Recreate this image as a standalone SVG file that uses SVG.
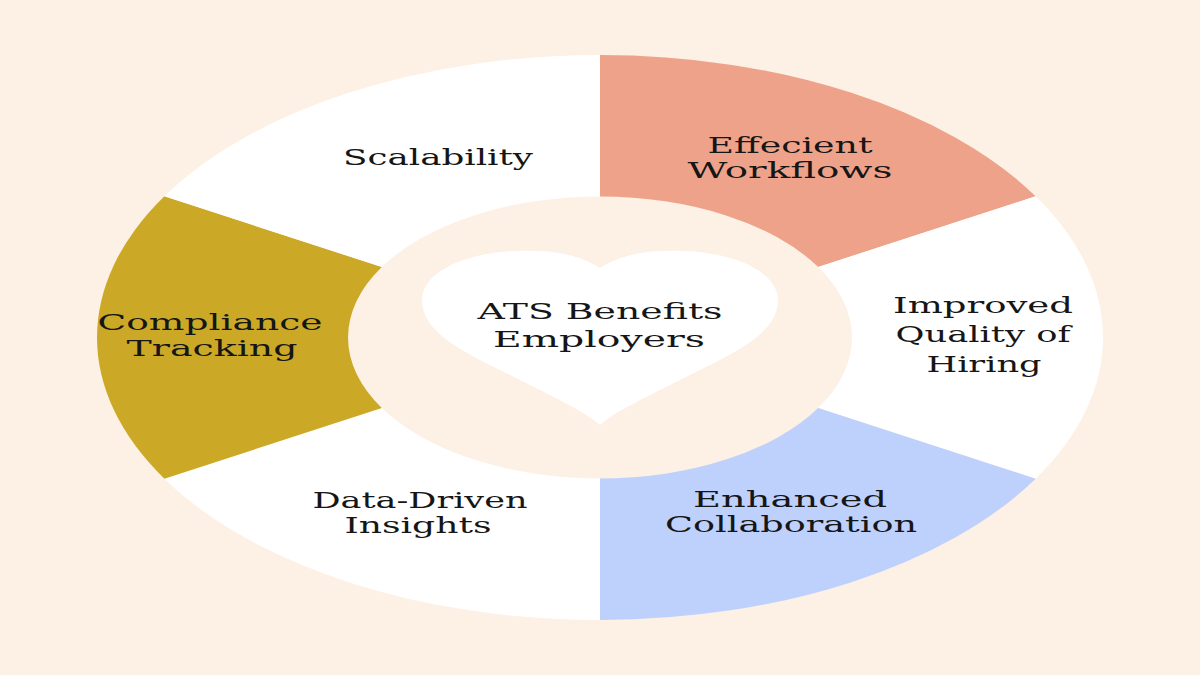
<svg xmlns="http://www.w3.org/2000/svg" width="1200" height="675" viewBox="0 0 1200 675">
  <style>
    .lbl { font-family: "DejaVu Serif", "Liberation Serif", serif; font-size: 22px; fill: #161616; text-anchor: middle; }
    .white { fill: #ffffff; }
  </style>
  <rect x="0" y="0" width="1200" height="675" fill="#fdf0e5"/>
  <g id="ring">
    <g id="seg-efficient">
      <path d="M 600 55 A 503 282.5 0 0 1 1035.6 196.25 L 818.2 267 A 252 141 0 0 0 600 196.5 Z" fill="#eea28a"/>
      <text class="lbl" x="790" y="153" textLength="165" lengthAdjust="spacingAndGlyphs">Effecient</text>
      <text class="lbl" x="790" y="178" textLength="205" lengthAdjust="spacingAndGlyphs">Workflows</text>
    </g>
    <g id="seg-quality">
      <path d="M 1035.6 196.25 A 503 282.5 0 0 1 1035.6 478.75 L 818.2 408 A 252 141 0 0 0 818.2 267 Z" class="white"/>
      <text class="lbl" x="983" y="313" textLength="180" lengthAdjust="spacingAndGlyphs">Improved</text>
      <text class="lbl" x="983" y="342" textLength="175" lengthAdjust="spacingAndGlyphs">Quality of</text>
      <text class="lbl" x="984" y="372" textLength="115" lengthAdjust="spacingAndGlyphs">Hiring</text>
    </g>
    <g id="seg-collab">
      <path d="M 1035.6 478.75 A 503 282.5 0 0 1 600 620 L 600 478.5 A 252 141 0 0 0 818.2 408 Z" fill="#bed0fc"/>
      <text class="lbl" x="790" y="507" textLength="194" lengthAdjust="spacingAndGlyphs">Enhanced</text>
      <text class="lbl" x="791" y="532" textLength="252" lengthAdjust="spacingAndGlyphs">Collaboration</text>
    </g>
    <g id="seg-data">
      <path d="M 600 620 A 503 282.5 0 0 1 164.4 478.75 L 381.8 408 A 252 141 0 0 0 600 478.5 Z" class="white"/>
      <text class="lbl" x="420" y="508" textLength="215" lengthAdjust="spacingAndGlyphs">Data-Driven</text>
      <text class="lbl" x="418" y="533" textLength="147" lengthAdjust="spacingAndGlyphs">Insights</text>
    </g>
    <g id="seg-compliance">
      <path d="M 164.4 478.75 A 503 282.5 0 0 1 164.4 196.25 L 381.8 267 A 252 141 0 0 0 381.8 408 Z" fill="#cba927"/>
      <text class="lbl" x="210" y="330" textLength="225" lengthAdjust="spacingAndGlyphs">Compliance</text>
      <text class="lbl" x="212" y="356" textLength="171" lengthAdjust="spacingAndGlyphs">Tracking</text>
    </g>
    <g id="seg-scalability">
      <path d="M 164.4 196.25 A 503 282.5 0 0 1 600 55 L 600 196.5 A 252 141 0 0 0 381.8 267 Z" class="white"/>
      <text class="lbl" x="438" y="165" textLength="190" lengthAdjust="spacingAndGlyphs">Scalability</text>
    </g>
  </g>
  <g id="center">
    <path d="M 600 268 C 575 252 545 250 515 251 C 465 253 422 272 422 300 C 422 335 470 355 520 380 C 560 400 585 412 600 425 C 615 412 640 400 680 380 C 730 355 778 335 778 300 C 778 272 735 253 685 251 C 655 250 625 252 600 268 Z" class="white"/>
    <text class="lbl" x="600" y="319" textLength="245" lengthAdjust="spacingAndGlyphs">ATS Benefits</text>
    <text class="lbl" x="599" y="347" textLength="212" lengthAdjust="spacingAndGlyphs">Employers</text>
  </g>
</svg>
